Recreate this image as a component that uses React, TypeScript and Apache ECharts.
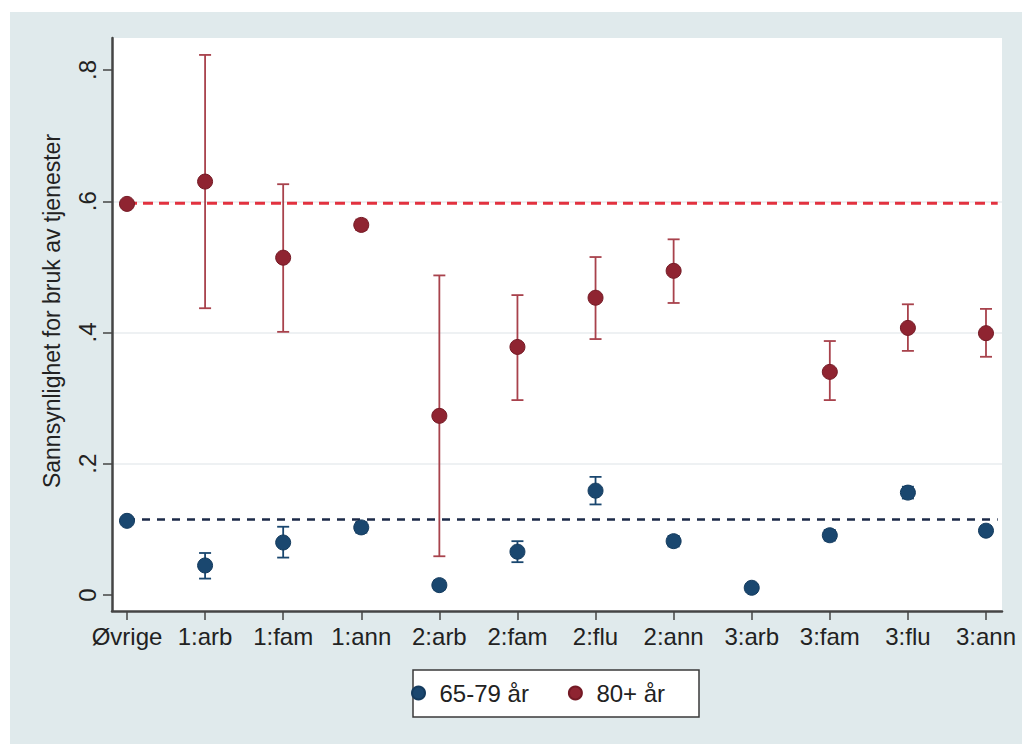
import React, { useEffect, useRef } from 'react';
import * as echarts from 'echarts';

const categories = ['Øvrige', '1:arb', '1:fam', '1:ann', '2:arb', '2:fam', '2:flu', '2:ann', '3:arb', '3:fam', '3:flu', '3:ann'];

const youngName = '65-79 år';
const young = [0.113, 0.045, 0.080, 0.103, 0.015, 0.066, 0.159, 0.082, 0.011, 0.091, 0.156, 0.098];
const youngLo = [0.110, 0.025, 0.057, 0.095, 0.008, 0.050, 0.138, 0.074, 0.005, 0.083, 0.147, 0.091];
const youngHi = [0.116, 0.064, 0.104, 0.111, 0.022, 0.082, 0.180, 0.090, 0.017, 0.099, 0.165, 0.105];

const oldName = '80+ år';
const old: (number | null)[] = [0.596, 0.630, 0.514, 0.564, 0.273, 0.378, 0.453, 0.494, null, 0.340, 0.407, 0.399];
const oldLo: (number | null)[] = [0.592, 0.437, 0.401, 0.556, 0.059, 0.297, 0.390, 0.445, null, 0.297, 0.372, 0.363];
const oldHi: (number | null)[] = [0.600, 0.823, 0.626, 0.572, 0.487, 0.457, 0.515, 0.542, null, 0.387, 0.443, 0.436];

const refYoung = 0.115;
const refOld = 0.597;
const refStart = 0;
const refEnd = 11.15;

const yTicks = [0, 0.2, 0.4, 0.6, 0.8];
const yTickLabels = ['0', '.2', '.4', '.6', '.8'];
const yTitle = 'Sannsynlighet for bruk av tjenester';

const NAVY = '#1a476f';
const MAROON = '#8f2431';
const FONT = '"Liberation Sans", Arial, sans-serif';

function pts(vals: (number | null)[]) {
  const out: number[][] = [];
  vals.forEach((v, i) => { if (v != null) out.push([i, v]); });
  return out;
}
function bars(lo: (number | null)[], hi: (number | null)[]) {
  const out: number[][] = [];
  lo.forEach((l, i) => { const h = hi[i]; if (l != null && h != null) out.push([i, l, h]); });
  return out;
}

function errRender(color: string) {
  return (params: any, api: any) => {
    const x = api.value(0);
    const a = api.coord([x, api.value(1)]);
    const b = api.coord([x, api.value(2)]);
    const hw = 6;
    const st = { stroke: color, lineWidth: 1.8 };
    return {
      type: 'group',
      children: [
        { type: 'line', shape: { x1: a[0], y1: a[1], x2: b[0], y2: b[1] }, style: st },
        { type: 'line', shape: { x1: a[0] - hw, y1: a[1], x2: a[0] + hw, y2: a[1] }, style: st },
        { type: 'line', shape: { x1: b[0] - hw, y1: b[1], x2: b[0] + hw, y2: b[1] }, style: st },
      ],
    };
  };
}

export default function App() {
  const ref = useRef<HTMLDivElement>(null);
  useEffect(() => {
    if (!ref.current) return;
    const chart = echarts.init(ref.current, undefined, { renderer: 'svg' });
    const option: any = {
      animation: false,
      backgroundColor: 'transparent',
      textStyle: { fontFamily: FONT },
      grid: {
        left: 112, top: 38, right: 20, bottom: 133,
        show: true, backgroundColor: '#ffffff', borderWidth: 0,
      },
      xAxis: {
        type: 'value',
        min: -0.192,
        max: 11.205,
        axisLine: { show: true, onZero: false, lineStyle: { color: '#454545', width: 2.5 } },
        axisTick: { show: true, length: 9, customValues: categories.map((_, i) => i), lineStyle: { color: '#454545', width: 1.5 } },
        axisLabel: {
          customValues: categories.map((_, i) => i),
          formatter: (v: number) => categories[Math.round(v)] ?? '',
          fontSize: 24, color: '#222', fontFamily: FONT, margin: 13,
        },
        splitLine: { show: false },
      },
      yAxis: {
        type: 'value',
        min: -0.0244,
        max: 0.8488,
        axisLine: { show: true, onZero: false, lineStyle: { color: '#454545', width: 2.5 } },
        axisTick: { show: true, length: 9, customValues: yTicks, lineStyle: { color: '#454545', width: 1.5 } },
        axisLabel: {
          customValues: yTicks,
          rotate: 90,
          formatter: (v: number) => {
            const i = yTicks.findIndex((t) => Math.abs(t - v) < 1e-6);
            return i >= 0 ? yTickLabels[i] : '';
          },
          fontSize: 24, color: '#222', fontFamily: FONT, margin: 13,
        },
        splitLine: { show: true, showMinLine: false, showMaxLine: false, lineStyle: { color: '#e8edef', width: 1.5 } },
      },
      legend: {
        data: [youngName, oldName],
        left: 411, top: 681,
        padding: 0,
        itemGap: 39,
        itemWidth: 32, itemHeight: 13,
        icon: 'circle',
        textStyle: { fontSize: 24, color: '#222', fontFamily: FONT },
        selectedMode: false,
      },
      graphic: [
        {
          type: 'rect', z: 1,
          shape: { x: 413, y: 670, width: 286, height: 47 },
          style: { fill: '#ffffff', stroke: '#3a3a3a', lineWidth: 1.5 },
        },
        {
          type: 'text', z: 5,
          x: 52, y: 311, rotation: Math.PI / 2,
          style: {
            text: yTitle, fontSize: 23, fontFamily: FONT, fill: '#222',
            align: 'center', verticalAlign: 'middle',
          },
        },
      ],
      series: [
        {
          type: 'line', name: 'refOld', silent: true, symbol: 'none', z: 2,
          data: [[refStart, refOld], [refEnd, refOld]],
          lineStyle: { color: '#e2323f', width: 3, type: [10, 6] },
        },
        {
          type: 'line', name: 'refYoung', silent: true, symbol: 'none', z: 2,
          data: [[refStart, refYoung], [refEnd, refYoung]],
          lineStyle: { color: '#1c2a48', width: 2.5, type: [8, 7] },
        },
        {
          type: 'custom', name: 'ciOld', silent: true, z: 3,
          renderItem: errRender('#a8424c'),
          data: bars(oldLo, oldHi),
        },
        {
          type: 'custom', name: 'ciYoung', silent: true, z: 3,
          renderItem: errRender(NAVY),
          data: bars(youngLo, youngHi),
        },
        {
          type: 'scatter', name: youngName, z: 4,
          symbol: 'circle', symbolSize: 15,
          itemStyle: { color: NAVY, borderColor: '#143b5e', borderWidth: 1, opacity: 1 },
          data: pts(young),
        },
        {
          type: 'scatter', name: oldName, z: 4,
          symbol: 'circle', symbolSize: 15,
          itemStyle: { color: MAROON, borderColor: '#741a25', borderWidth: 1, opacity: 1 },
          data: pts(old),
        },
      ],
    };
    chart.setOption(option);
    return () => chart.dispose();
  }, []);

  return (
    <div style={{ position: 'fixed', left: 0, top: 0, width: 1022, height: 744, background: '#ffffff' }}>
      <div style={{ position: 'absolute', left: 10, top: 12, right: 0, bottom: 0, background: '#e0eaec' }} />
      <div ref={ref} style={{ position: 'absolute', left: 0, top: 0, width: 1022, height: 744 }} />
    </div>
  );
}
